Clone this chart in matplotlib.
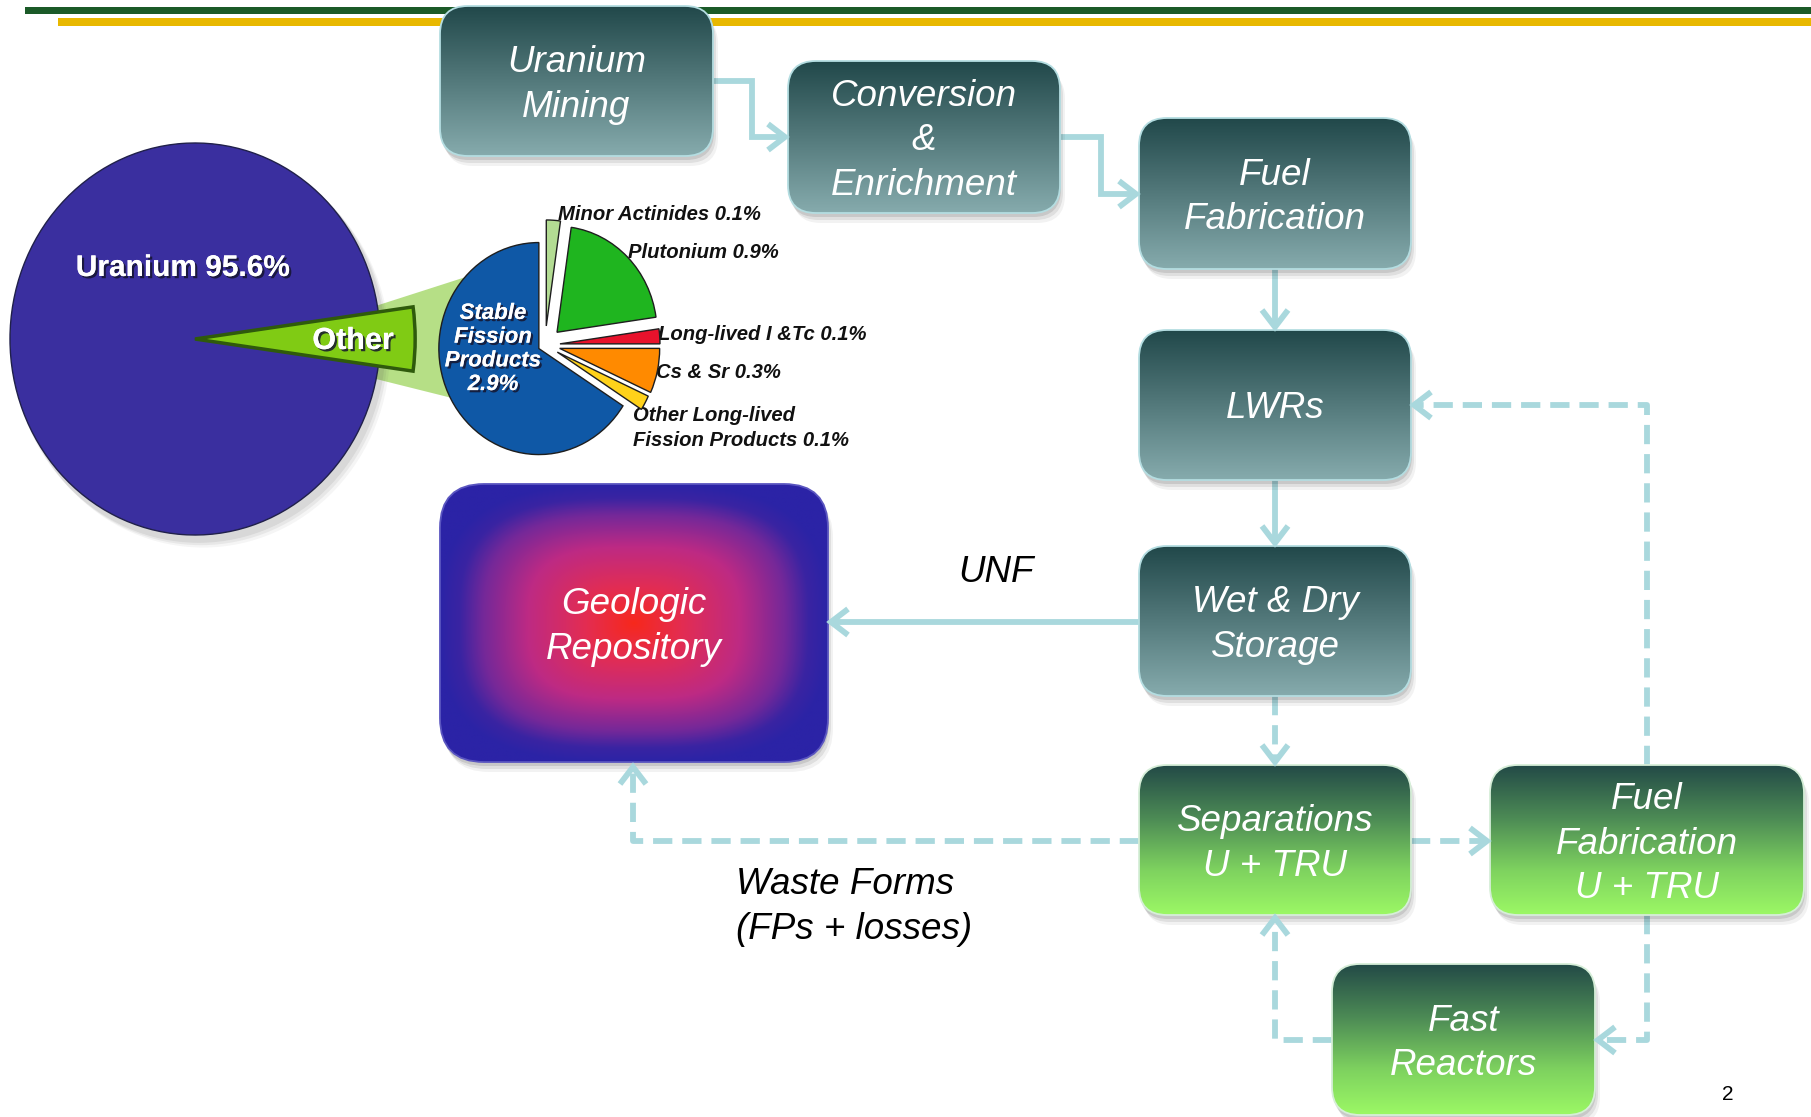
import numpy as np
import matplotlib
matplotlib.use("Agg")
import matplotlib.pyplot as plt
import matplotlib.patheffects as pe
from matplotlib.patches import FancyBboxPatch, Polygon, Ellipse, Rectangle
from matplotlib import font_manager as fm
from matplotlib.colors import to_rgb

# ---------------- data ----------------
# Composition of used nuclear fuel (percent)
fuel_labels = ["Other", "Uranium 95.6%"]
fuel_values = [4.4, 95.6]
fuel_colors = ["#80cb14", "#3a2f9f"]

# Breakdown of the "Other" share (percent of used fuel)
other_labels = ["Minor Actinides", "Plutonium", "Long-lived I &Tc", "Cs & Sr",
                "Other Long-lived\nFission Products", "Stable\nFission\nProducts"]
other_values = [0.1, 0.9, 0.1, 0.3, 0.1, 2.9]
other_colors = ["#b3dc93", "#1fb51f", "#e8122c", "#ff8a00", "#ffd21a", "#0f58a6"]
other_explode = [0.18, 0.17, 0.15, 0.15, 0.14, 0.07]

# Fuel-cycle steps
steps = ["Uranium\nMining", "Conversion\n&\nEnrichment", "Fuel\nFabrication", "LWRs",
         "Wet & Dry\nStorage", "Separations\nU + TRU", "Fuel\nFabrication\nU + TRU",
         "Fast\nReactors", "Geologic\nRepository"]
flow_notes = ["UNF", "Waste Forms\n(FPs + losses)"]
page_number = "2"

# ---------------- layout (pixel space) ----------------
W, H = 1811, 1117
BOXES = [
    (440, 6, 713, 156),      # mining
    (788, 61, 1060, 213),    # conversion
    (1139, 118, 1411, 269),  # fabrication
    (1139, 330, 1411, 480),  # LWRs
    (1139, 546, 1411, 696),  # storage
    (1139, 765, 1411, 915),  # separations
    (1490, 765, 1804, 915),  # fabrication U+TRU
    (1332, 964, 1595, 1115), # fast reactors
    (440, 484, 828, 762),    # repository
]
BOX_STYLE = ["teal"] * 5 + ["green"] * 3 + ["geo"]

TEAL = [(0.0, "#21484a"), (1.0, "#86abad")]
GREEN = [(0.0, "#234a47"), (0.35, "#4c8a55"), (0.7, "#7ed25f"), (1.0, "#9cf865")]
GEO = [(0.0, "#f7281c"), (0.25, "#e32d52"), (0.55, "#bd2a84"), (0.78, "#742899"),
       (0.9, "#3a24a2"), (1.0, "#2b23a6")]
ARROW = "#a9d8dd"
LW = 4.2
LINESP = 1.37

plt.rcParams["font.family"] = ["Liberation Sans", "DejaVu Sans"]
names = {f.name for f in fm.fontManager.ttflist}
if "Liberation Sans Narrow" in names:
    LBL_FAMILY, LBL_SIZE = ["Liberation Sans Narrow", "Liberation Sans"], 16.5
else:
    LBL_FAMILY, LBL_SIZE = ["Liberation Sans", "DejaVu Sans"], 14.6

fig = plt.figure(figsize=(W / 100, H / 100), dpi=100)
ax = fig.add_axes([0, 0, 1, 1])
ax.set_xlim(0, W)
ax.set_ylim(H, 0)
ax.axis("off")

# header stripes
ax.add_patch(Rectangle((25, 7), W - 25, 7, fc="#1b5a28", ec="none", zorder=1))
ax.add_patch(Rectangle((58, 18), W - 58, 8, fc="#e8b800", ec="none", zorder=1))


def ramp(stops, t):
    pos = [s[0] for s in stops]
    rgb = np.array([to_rgb(s[1]) for s in stops])
    return np.stack([np.interp(t, pos, rgb[:, c]) for c in range(3)], axis=-1)


def gradient_box(box, style, text):
    x0, y0, x1, y1 = box
    w, h = x1 - x0, y1 - y0
    rad = 44 if style == "geo" else 28
    bs = f"round,pad=0,rounding_size={rad}"
    for (dx, dy), a in [((1, 4), 0.10), ((3, 7), 0.08), ((5, 10), 0.05)]:
        ax.add_patch(FancyBboxPatch((x0 + dx, y0 + dy), w, h, boxstyle=bs,
                                    fc="black", ec="none", alpha=a, zorder=2))
    clip = FancyBboxPatch((x0, y0), w, h, boxstyle=bs, fc="none", ec="none", zorder=2)
    ax.add_patch(clip)
    if style == "geo":
        u = np.linspace(-1, 1, 400)
        v = np.linspace(-1, 1, 300)
        U, V = np.meshgrid(u, v)
        d = np.clip((np.abs(U) ** 3 + np.abs(V) ** 3) ** (1 / 3), 0, 1)
        img = ramp(GEO, d)
        edge = "#5a55c0"
    else:
        t = np.linspace(0, 1, 256)
        img = ramp(TEAL if style == "teal" else GREEN, t)[:, None, :]
        edge = "#b4dde1" if style == "teal" else "#d6eed8"
    im = ax.imshow(img, extent=(x0, x1, y1, y0), origin="upper", aspect="auto",
                   interpolation="bilinear", zorder=3)
    im.set_clip_path(clip)
    ax.add_patch(FancyBboxPatch((x0, y0), w, h, boxstyle=bs, fc="none", ec=edge,
                                lw=1.3, zorder=4))
    ax.text((x0 + x1) / 2, (y0 + y1) / 2 + 4, text, color="white", style="italic",
            fontsize=26.5, ha="center", va="center", linespacing=LINESP, zorder=5)


for box, style, text in zip(BOXES, BOX_STYLE, steps):
    gradient_box(box, style, text)


def arrow_path(points, dashed=False, head=True):
    xs, ys = zip(*points)
    ls = (0, (3.3, 1.7)) if dashed else "-"
    ax.plot(xs, ys, color=ARROW, lw=LW, ls=ls, solid_capstyle="butt",
            dash_capstyle="butt", solid_joinstyle="miter", zorder=1.5)
    if head:
        (ax_, ay_), (bx, by) = points[-2], points[-1]
        d = np.array([bx - ax_, by - ay_], float)
        d /= np.hypot(*d)
        n = np.array([-d[1], d[0]])
        tip = np.array([bx, by])
        L, Wd = 17, 13
        p1 = tip - L * d + Wd * n
        p2 = tip - L * d - Wd * n
        ax.plot([p1[0], tip[0], p2[0]], [p1[1], tip[1], p2[1]], color=ARROW, lw=LW,
                solid_joinstyle="miter", solid_capstyle="butt", zorder=6)


# solid flow
arrow_path([(713, 81), (752, 81), (752, 137), (785, 137)])
arrow_path([(1060, 137), (1101, 137), (1101, 194), (1136, 194)])
arrow_path([(1275, 269), (1275, 327)])
arrow_path([(1275, 480), (1275, 543)])
arrow_path([(1139, 622), (831, 622)])
# dashed recycle flow
arrow_path([(1275, 696), (1275, 762)], dashed=True)
arrow_path([(1139, 841), (633, 841), (633, 767)], dashed=True)
arrow_path([(1411, 841), (1487, 841)], dashed=True)
arrow_path([(1647, 765), (1647, 405), (1414, 405)], dashed=True)
arrow_path([(1647, 915), (1647, 1040), (1598, 1040)], dashed=True)
arrow_path([(1332, 1040), (1275, 1040), (1275, 918)], dashed=True)

# flow annotations
ax.text(996, 572, flow_notes[0], style="italic", fontsize=26.5, ha="center",
        va="center", color="black")
ax.text(736, 907, flow_notes[1], style="italic", fontsize=26.5, ha="left",
        va="center", color="black", linespacing=LINESP)
ax.text(1728, 1094, page_number, fontsize=15, ha="center", va="center", color="black")

# zoom band linking "Other" to its breakdown
ax.add_patch(Polygon([(360, 311), (500, 266), (500, 410), (360, 375)], closed=True,
                     fc="#b6df86", ec="none", zorder=1))

shadow = [pe.withSimplePatchShadow(offset=(1.6, -1.6), shadow_rgbFace="#15152e",
                                   alpha=0.85), pe.Normal()]


def pie_axes(cx, cy, rx, ry, k):
    pa = fig.add_axes([(cx - k * rx) / W, 1 - (cy + k * ry) / H,
                       2 * k * rx / W, 2 * k * ry / H])
    return pa


def finish(pa, k):
    pa.set_aspect("auto")
    pa.set_xlim(-k, k)
    pa.set_ylim(-k, k)
    pa.axis("off")
    pa.patch.set_visible(False)


# main composition pie
K1 = 1.3
pa1 = pie_axes(195, 339, 185, 196, K1)
for i, a in enumerate([0.10, 0.08, 0.06]):
    pa1.add_patch(Ellipse((0.02 + 0.012 * i, -0.03 - 0.012 * i), 2.02, 2.02,
                          fc="#555555", ec="none", alpha=a))
w1, _ = pa1.pie(fuel_values, colors=fuel_colors, startangle=-fuel_values[0] * 1.8,
                counterclock=True, radius=1.0,
                wedgeprops=dict(edgecolor="#20204a", linewidth=1.0))
w1[0].set_radius(1.19)
w1[0].set_edgecolor("#2f5a0c")
w1[0].set_linewidth(2.5)
w1[0].set_zorder(3)
finish(pa1, K1)
pa1.text(183, 268, fuel_labels[1], transform=ax.transData, color="white",
         fontweight="bold", fontsize=21.5, ha="center", va="center", path_effects=shadow)
pa1.text(353, 341, fuel_labels[0], transform=ax.transData, color="white",
         fontweight="bold", fontsize=22, ha="center", va="center", path_effects=shadow,
         zorder=5)

# breakdown pie
K2 = 1.3
pa2 = pie_axes(545, 345, 100, 106, K2)
pa2.pie(other_values, colors=other_colors, explode=other_explode, startangle=90,
        counterclock=False, radius=1.0,
        wedgeprops=dict(edgecolor="#1e1e1e", linewidth=1.0))
finish(pa2, K2)

pa2.text(493, 349, f"{other_labels[5]}\n{other_values[5]:g}%", transform=ax.transData,
         color="white", fontweight="bold", style="italic", fontsize=16, ha="center",
         va="center", linespacing=1.17, path_effects=shadow)

label_pos = [(558, 214), (628, 252), (658, 334), (656, 373), (633, 428)]
for (x, y), name, val in zip(label_pos, other_labels[:5], other_values[:5]):
    ax.text(x, y, f"{name} {val:g}%", family=LBL_FAMILY, fontsize=LBL_SIZE,
            fontweight="bold", style="italic", ha="left", va="center",
            color="#111111", linespacing=1.38, zorder=7)

fig.savefig("out.png", dpi=100)
